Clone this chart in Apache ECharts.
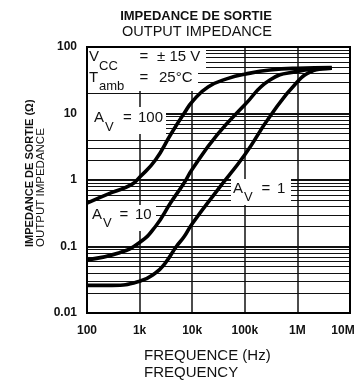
<!DOCTYPE html>
<html><head><meta charset="utf-8">
<script src="https://cdn.jsdelivr.net/npm/echarts@6/dist/echarts.min.js"></script>
<style>html,body{margin:0;padding:0;background:#fff}#c{width:363px;height:382px}</style>
</head><body><div id="c"></div>
<script>
// ---- data ----
const xTickValues = [100, 1000, 10000, 100000, 1000000, 10000000];
const xTickLabels = ['100', '1k', '10k', '100k', '1M', '10M'];
const yTickValues = [0.01, 0.1, 1, 10, 100];
const yTickLabels = ['0.01', '0.1', '1', '10', '100'];
const minorGridValues = [
  0.02, 0.03, 0.04, 0.05, 0.06, 0.07, 0.08, 0.09,
  0.2, 0.3, 0.4, 0.5, 0.6, 0.7, 0.8, 0.9,
  2, 3, 4, 5, 6, 7, 8, 9,
  20, 30, 40, 50, 60, 70, 80, 90
];
const freqAv100 = [100, 300, 700, 1000, 2000, 4000, 7000, 10000, 20000, 50000, 100000, 300000, 1000000, 4500000];
const zAv100    = [0.45, 0.65, 0.85, 1.1, 2.0, 5.0, 10, 15, 25, 34, 39, 45, 48, 49];
const freqAv10  = [100, 400, 1000, 2000, 4000, 7000, 10000, 30000, 100000, 300000, 1000000, 3000000, 4500000];
const zAv10     = [0.063, 0.08, 0.115, 0.2, 0.47, 0.9, 1.45, 4.8, 13.5, 32, 43, 47, 48];
const freqAv1   = [100, 300, 1000, 2000, 3000, 5000, 7000, 10000, 30000, 100000, 300000, 1000000, 2000000, 3000000, 4500000];
const zAv1      = [0.026, 0.026, 0.03, 0.04, 0.055, 0.1, 0.14, 0.22, 0.7, 2.4, 9, 30, 44, 47, 48];

const FONT = 'Liberation Sans, Arial, Helvetica, sans-serif';
const chart = echarts.init(document.getElementById('c'), null, {renderer: 'canvas'});

function lookup(values, labels, v) {
  for (let i = 0; i < values.length; i++) {
    if (Math.abs(Math.log10(values[i]) - Math.log10(v)) < 1e-6) return labels[i];
  }
  return '';
}
function pairs(xs, ys) { return xs.map((x, i) => [x, ys[i]]); }

function txt(text, x, y, size, weight, align, extra) {
  return Object.assign({
    type: 'text', x: x, y: y, zlevel: 1, z: 4,
    style: {
      text: text, font: (weight || 'normal') + ' ' + size + 'px ' + FONT,
      fill: '#111', align: align || 'left', textAlign: align || 'left',
      verticalAlign: 'middle', textVerticalAlign: 'middle'
    }
  }, extra || {});
}
function box(x, y, w, h) {
  return {type: 'rect', zlevel: 1, z: 3, shape: {x: x, y: y, width: w, height: h}, style: {fill: '#fff'}};
}

const curveStyle = {type: 'line', showSymbol: false, smooth: 0.5, zlevel: 2, z: 5,
  lineStyle: {color: '#000', width: 3.6}, silent: true, animation: false};

chart.setOption({
  animation: false,
  grid: {left: 87, top: 47, right: 13, bottom: 69, show: false},
  xAxis: {
    type: 'log', logBase: 10, min: 100, max: 10000000,
    axisLine: {show: false}, axisTick: {show: false},
    splitLine: {show: true, lineStyle: {color: '#111', width: 1.5}},
    axisLabel: {
      margin: 12, color: '#111', fontWeight: 'bold', fontSize: 12, fontFamily: FONT,
      formatter: v => { const s = lookup(xTickValues, xTickLabels, v); return s === '10M' ? '{r|10M}' : s; },
      rich: {r: {padding: [0, 14, 0, 0], fontWeight: 'bold', fontSize: 12, fontFamily: FONT, color: '#111'}}
    }
  },
  yAxis: {
    type: 'log', logBase: 10, min: 0.01, max: 100,
    axisLine: {show: false}, axisTick: {show: false},
    splitLine: {show: true, lineStyle: {color: '#111', width: 2}},
    axisLabel: {
      margin: 10, color: '#111', fontWeight: 'bold', fontSize: 12, fontFamily: FONT,
      formatter: v => lookup(yTickValues, yTickLabels, v)
    }
  },
  series: [
    {type: 'line', data: [], z: 1, silent: true,
      markLine: {silent: true, symbol: ['none', 'none'], animation: false, label: {show: false},
        lineStyle: {color: '#111', width: 1.1, type: 'solid'},
        emphasis: {disabled: true},
        data: minorGridValues.map(v => ({yAxis: v}))}},
    Object.assign({name: 'AV100', data: pairs(freqAv100, zAv100)}, curveStyle),
    Object.assign({name: 'AV10', data: pairs(freqAv10, zAv10)}, curveStyle),
    Object.assign({name: 'AV1', data: pairs(freqAv1, zAv1)}, curveStyle)
  ],
  graphic: {elements: [
    // label boxes
    box(88, 48, 118, 23),
    box(88, 71, 110, 20),
    box(88, 107, 78, 27),
    box(88, 205, 68, 26),
    box(231, 179, 60, 26),
    // frame
    {type: 'rect', zlevel: 1, z: 10, shape: {x: 87, y: 47, width: 263, height: 266},
      style: {fill: 'none', stroke: '#000', lineWidth: 2}},
    // titles
    txt('IMPEDANCE DE SORTIE', 196, 16, 13, 'bold', 'center'),
    txt('OUTPUT IMPEDANCE', 197, 31.5, 14.5, 'normal', 'center'),
    txt('FREQUENCE (Hz)', 144, 356, 15, 'normal', 'left'),
    txt('FREQUENCY', 144, 372.5, 15, 'normal', 'left'),
    txt('IMPEDANCE DE SORTIE (\u03A9)', 30, 247, 11, 'bold', 'left', {rotation: Math.PI / 2}),
    txt('OUTPUT IMPEDANCE', 41, 247, 11.5, 'normal', 'left', {rotation: Math.PI / 2}),
    // annotations
    txt('V', 89, 57, 15), txt('CC', 99, 66, 13), txt('=', 144, 57, 15, 'normal', 'center'), txt('\u00B1 15 V', 157, 57, 15),
    txt('T', 89, 78, 15), txt('amb', 99, 86, 13), txt('=', 144, 78, 15, 'normal', 'center'), txt('25\u00B0C', 159, 78, 15),
    txt('A', 94, 117.5, 15), txt('V', 105, 127, 13), txt('=', 127.5, 118, 15, 'normal', 'center'), txt('100', 138, 117.5, 15),
    txt('A', 92, 215, 15), txt('V', 103, 223, 13), txt('=', 124, 215, 15, 'normal', 'center'), txt('10', 135, 215, 15),
    txt('A', 233, 189, 15), txt('V', 244, 197, 13), txt('=', 266, 189, 15, 'normal', 'center'), txt('1', 277, 189, 15)
  ]}
});
</script></body></html>
